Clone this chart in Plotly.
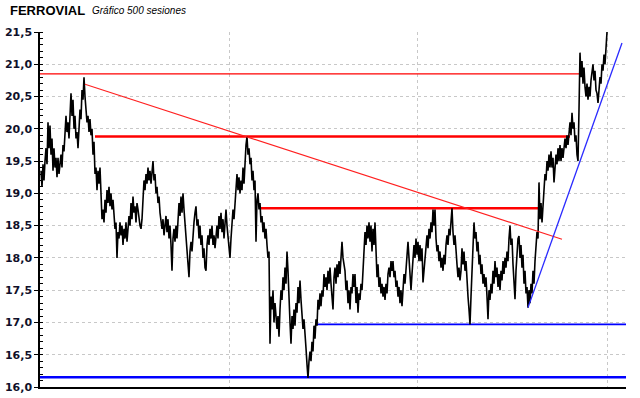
import plotly.graph_objects as go

# Price path (one value per session step)
closes = [
    19.35, 19.1, 19.45, 19.2, 19.5, 19.7, 19.45, 20.1, 19.7, 20.05,
    19.6, 19.85, 19.35, 19.7, 19.4, 19.55, 19.25, 19.55, 19.3, 19.45,
    19.6, 19.4, 19.75, 19.65, 20.05, 20.2, 19.95, 20.1, 19.85, 20.3,
    20.55, 20.2, 20.45, 20.0, 20.2, 19.85, 19.95, 19.7, 20.0, 20.3,
    20.15, 20.6, 20.45, 20.8, 20.5, 20.3, 20.1, 20.2, 19.95, 20.15,
    19.9, 20.0, 19.6, 19.8, 19.3, 19.4, 19.05, 19.35, 19.15, 19.4,
    19.0, 18.6, 18.75, 18.55, 18.9, 18.7, 19.05, 18.85, 19.1, 18.8,
    19.0, 18.75, 18.9, 18.6, 18.45, 18.55, 18.0, 18.4, 18.3, 18.55,
    18.35, 18.5, 18.2, 18.45, 18.3, 18.55, 18.25, 18.45, 18.65, 18.5,
    18.85, 18.6, 18.95, 18.7, 18.8, 18.55, 18.85, 18.75, 18.6, 18.5,
    18.45, 18.6, 18.9, 19.2, 19.05, 19.3, 19.15, 19.4, 19.2, 19.35,
    19.15, 19.3, 19.5, 19.2, 19.3, 19.0, 19.1, 18.85, 18.95, 18.7,
    18.55, 18.45, 18.6, 18.35, 18.5, 18.65, 18.4, 18.6, 18.3, 18.5,
    18.2, 17.8, 18.3, 18.45, 18.25, 18.5, 18.3, 18.7, 18.85, 18.65,
    18.95, 18.7, 19.0, 18.75, 18.55, 18.35, 18.1, 17.9, 17.7, 18.1,
    18.25, 18.1, 18.4, 18.55, 18.7, 18.8, 18.5, 18.6, 18.3, 18.5,
    18.2, 18.35, 18.0, 18.15, 17.85, 17.8, 18.2, 18.35, 18.2, 18.45,
    18.3, 18.5, 18.2, 18.35, 18.15, 18.35, 18.5, 18.3, 18.65, 18.45,
    18.7, 18.4, 18.6, 18.3, 18.55, 18.75, 18.5, 18.3, 18.1, 18.0,
    18.3, 18.55, 18.75, 18.6, 18.9, 19.15, 19.3, 19.05, 19.25, 19.0,
    19.2, 19.05, 19.4, 19.15, 19.6, 19.75, 19.88, 19.6, 19.7, 19.45,
    19.55, 19.2, 19.35, 19.05, 19.2, 18.25, 18.9, 19.0, 18.75, 18.85,
    18.55, 18.65, 18.4, 18.55, 18.3, 18.45, 18.2, 18.0, 18.1, 16.67,
    17.4, 17.2, 17.5, 17.0, 17.3, 17.1, 16.9, 17.1, 16.78, 17.2,
    17.5, 17.35, 17.7, 17.5, 17.85, 17.6, 18.1, 17.8, 17.2, 17.0,
    16.67, 17.1, 16.9, 17.2, 16.95, 17.3, 17.15, 17.55, 17.3, 17.65,
    17.35, 17.1, 16.9, 17.05, 16.7, 16.6, 16.35, 16.14, 16.4, 16.55,
    16.4, 16.7, 16.55, 16.95, 16.75, 17.05, 16.95, 17.35, 17.2, 17.45,
    17.25, 17.5, 17.4, 17.75, 17.55, 17.7, 17.5, 17.8, 17.6, 17.85,
    17.6, 17.45, 17.2, 17.7, 17.85, 17.6, 17.9, 17.7, 17.95, 17.75,
    18.0, 18.25, 18.0, 17.85, 17.8, 17.5, 17.65, 17.3, 17.5, 17.2,
    17.55, 17.45, 17.75, 17.55, 17.75, 17.3, 17.55, 17.15, 17.45, 17.35,
    17.6, 17.5, 17.95, 18.1, 18.4, 18.2, 18.5, 18.3, 18.55, 18.25,
    18.5, 18.1, 18.45, 18.2, 18.55, 18.0, 17.7, 17.9, 17.55, 17.7,
    17.45, 17.6, 17.4, 17.55, 17.35, 17.6, 17.45, 17.75, 17.85, 17.7,
    17.95, 17.8, 17.95, 17.7, 17.8, 17.55, 17.65, 17.4, 17.55, 17.3,
    17.5, 17.25, 17.6, 17.75, 17.6, 17.85, 17.95, 18.25, 18.0, 17.6,
    17.5, 17.75, 18.0, 18.2, 18.0, 18.3, 18.05, 18.25, 17.95, 18.2,
    17.95, 18.15, 17.62, 17.8, 17.9, 18.2, 18.35, 18.15, 18.45, 18.3,
    18.55, 18.4, 18.75, 18.5, 18.75, 18.3, 18.1, 18.2, 17.95, 18.1,
    17.85, 18.0, 17.8, 18.05, 17.9, 18.2, 18.35, 18.2, 18.45, 18.35,
    18.6, 18.77, 18.4, 18.2, 18.35, 18.0, 17.9, 17.7, 17.85, 17.65,
    17.8, 18.15, 17.9, 18.1, 17.8, 17.95, 17.6, 17.4, 17.2, 16.97,
    17.4, 17.9, 18.3, 18.55, 18.3, 18.4, 18.1, 18.25, 17.9, 18.05,
    17.75, 17.9, 17.6, 17.75, 17.55, 17.7, 17.4, 17.05, 17.5, 17.35,
    17.6, 17.45, 17.8, 17.6, 17.95, 17.7, 17.85, 17.55, 17.75, 17.5,
    17.8, 17.65, 17.95, 17.75, 18.0, 17.85, 18.1, 17.95, 18.3, 18.5,
    18.2, 18.3, 17.9, 17.6, 17.36, 17.8, 18.0, 18.3, 18.34, 18.0,
    18.2, 17.85, 18.05, 17.6, 17.8, 17.45, 17.55, 17.23, 17.5, 17.3,
    17.6, 17.45, 17.8, 17.6, 17.95, 18.2, 18.4, 18.3, 19.17, 18.6,
    18.85, 18.55, 18.8, 18.9, 19.3, 19.2, 19.5, 19.35, 19.6, 19.4,
    19.65, 19.4, 19.55, 19.17, 19.45, 19.6, 19.45, 19.7, 19.5, 19.75,
    19.5, 19.7, 19.55, 19.75, 19.85, 19.7, 19.9, 19.75, 19.95, 20.1,
    19.9, 20.25, 20.0, 20.1, 19.8, 19.9, 19.6, 19.5, 20.3, 21.18,
    20.8, 21.05, 20.7, 20.95, 20.65, 20.5, 20.7, 20.45, 20.65, 20.5,
    20.75, 20.95, 21.0, 20.75, 20.9, 20.6, 20.55, 20.4, 20.65, 20.8,
    20.7, 21.0, 20.9, 21.15, 21.0, 21.35, 21.5,
]
sessions = list(range(len(closes)))

# Resistance / support levels: (level, start session, end session)
red_levels = [20.85, 19.88, 18.77]
red_starts = [-1, 54, 219]
red_ends = [538, 529, 497]
red_widths = [1.3, 2.6, 2.6]

blue_levels = [16.97, 16.15]
blue_starts = [275, -1]
blue_ends = [585, 585]
blue_widths = [1.6, 2.6]

# Trend lines: (session, price) endpoints
red_trend_x = [44, 521]
red_trend_y = [20.69, 18.29]
blue_trend_x = [487, 581]
blue_trend_y = [17.23, 21.33]

y_ticks = [16.0, 16.5, 17.0, 17.5, 18.0, 18.5, 19.0, 19.5, 20.0, 20.5, 21.0, 21.5]
x_grid = [188, 376, 566]

fig = go.Figure()

for lvl, s, e, w in zip(red_levels, red_starts, red_ends, red_widths):
    fig.add_trace(go.Scatter(x=[s, e], y=[lvl, lvl], mode="lines",
                             line=dict(color="#ff0000", width=w), hoverinfo="skip"))
for lvl, s, e, w in zip(blue_levels, blue_starts, blue_ends, blue_widths):
    fig.add_trace(go.Scatter(x=[s, e], y=[lvl, lvl], mode="lines",
                             line=dict(color="#0000ff", width=w), hoverinfo="skip"))

fig.add_trace(go.Scatter(x=sessions, y=closes, mode="lines",
                         line=dict(color="#000000", width=1.6), hoverinfo="skip"))

fig.add_trace(go.Scatter(x=red_trend_x, y=red_trend_y, mode="lines",
                         line=dict(color="#ff2020", width=1.1), hoverinfo="skip"))
fig.add_trace(go.Scatter(x=blue_trend_x, y=blue_trend_y, mode="lines",
                         line=dict(color="#2a2aff", width=1.3), hoverinfo="skip"))

fig.update_layout(
    width=640, height=398,
    margin=dict(l=40, r=14, t=32, b=11),
    paper_bgcolor="white", plot_bgcolor="white",
    showlegend=False,
    separators=",.",
    xaxis=dict(
        range=[-1, 585], tickvals=x_grid, showticklabels=False, ticks="",
        showgrid=True, gridcolor="#c8c8c8", griddash="dot", gridwidth=1,
        showline=True, linecolor="black", linewidth=1.5, zeroline=False,
        fixedrange=True, automargin=False,
    ),
    yaxis=dict(
        range=[16.0, 21.5], tickvals=y_ticks, tickformat=".1f",
        showgrid=True, gridcolor="#c8c8c8", griddash="dot", gridwidth=1,
        showline=True, linecolor="black", linewidth=1.5, zeroline=False,
        ticks="outside", ticklen=4, tickcolor="black", tickwidth=1,
        tickfont=dict(family="DejaVu Sans", size=11, color="#10102a", weight="bold"),
        minor=dict(dtick=0.1, ticks="inside", ticklen=3, tickcolor="black",
                   showgrid=False),
        fixedrange=True, automargin=False,
    ),
    annotations=[
        dict(text="<b>FERROVIAL</b>", xref="paper", yref="paper",
             x=-0.055, y=1.06, xanchor="left", yanchor="middle", showarrow=False,
             font=dict(family="Liberation Sans", size=13, color="black")),
        dict(text="<i>Gráfico 500 sesiones</i>", xref="paper", yref="paper",
             x=0.085, y=1.06, xanchor="left", yanchor="middle", showarrow=False,
             font=dict(family="Liberation Sans", size=10, color="black")),
    ],
)

fig.write_html("out.html")
